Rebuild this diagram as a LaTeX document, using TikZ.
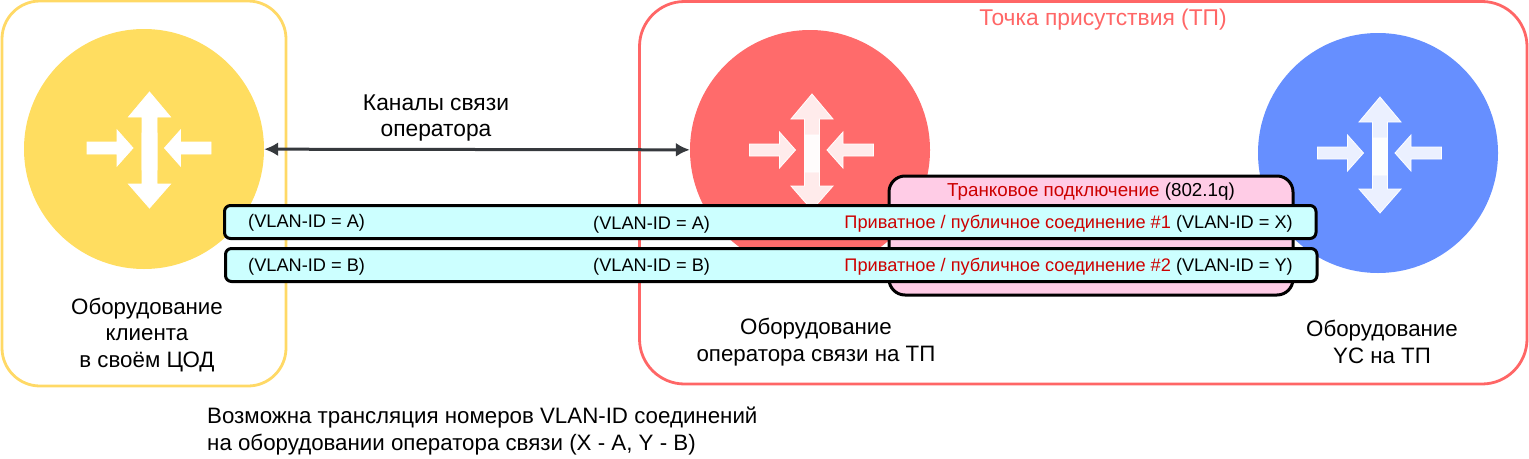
\documentclass[tikz,border=0pt]{standalone}
\usepackage{fontspec}
\usetikzlibrary{arrows.meta}
\setmainfont{Liberation Sans}
\definecolor{clientyellow}{HTML}{FFDD60}
\definecolor{clientborder}{HTML}{FFD966}
\definecolor{operred}{HTML}{FF6B6B}
\definecolor{popred}{HTML}{FF6666}
\definecolor{ycblue}{HTML}{668FFF}
\definecolor{trunkpink}{HTML}{FFCCE6}
\definecolor{vlancyan}{HTML}{CCFFFF}
\definecolor{darkred}{HTML}{CC0000}
\definecolor{linkgray}{HTML}{36393D}
\tikzset{
  bigtext/.style={font=\fontsize{22.3}{26.7}\selectfont, align=center, inner sep=0pt},
  smalltext/.style={font=\fontsize{18.2}{21}\selectfont, inner sep=0pt},
  router/.style={circle, minimum size=240pt, inner sep=0pt},
  zone/.style={draw, line width=2.8pt, fill=none},
  vlanbox/.style={draw=black, line width=3pt, fill=vlancyan, rounded corners=6pt},
  iconpart/.style={draw=white, line width=0.8pt, fill=white, fill opacity=0.87},
  pics/routericon/.style={code={
    % up, down, right, left
    \fill[iconpart] (0,-58) -- (21,-33) -- (7.5,-33) -- (7.5,20) -- (-7.5,20) -- (-7.5,-33) -- (-21,-33) -- cycle;
    \fill[iconpart] (0,58) -- (21,34) -- (7.5,34) -- (7.5,-17) -- (-7.5,-17) -- (-7.5,34) -- (-21,34) -- cycle;
    \fill[iconpart] (-62.5,-8) -- (-32.5,-8) -- (-32.5,-20) -- (-16.5,-2) -- (-32.5,16) -- (-32.5,4) -- (-62.5,4) -- cycle;
    \fill[iconpart] (61.5,-8) -- (31,-8) -- (31,-20) -- (15,-2) -- (31,16) -- (31,4) -- (61.5,4) -- cycle;
  }}
}
\begin{document}
\begin{tikzpicture}[x=1pt, y=-1pt]
  \useasboundingbox (0,0) rectangle (1529,458);
  \draw[zone, draw=clientborder, rounded corners=38pt] (2,1) rectangle (286,386);
  \draw[zone, draw=popred, rounded corners=45pt] (639.5,1.5) rectangle (1527,384);

  \node[router, fill=clientyellow] (clientrouter) at (144,149) {};
  \node[router, fill=operred] (operrouter) at (810,150) {};
  \node[router, fill=ycblue] (ycrouter) at (1378,153) {};
  \begin{scope}[iconpart/.append style={fill opacity=1}]
    \pic at (149.5,150) {routericon};
  \end{scope}
  \pic at (812,152) {routericon};
  \pic at (1380,155) {routericon};

  \draw[linkgray, line width=3pt, {Latex[length=14pt,width=14pt]}-{Latex[length=14pt,width=14pt]}] (clientrouter) -- (operrouter);

  \draw[draw=black, line width=3pt, fill=trunkpink, rounded corners=16pt] (889,176) rectangle (1293,295);
  \draw[vlanbox] (224.5,205.5) rectangle (1316,238.5);
  \draw[vlanbox] (225.5,248.5) rectangle (1317,281.5);

  \node[bigtext, text=popred, font=\fontsize{22.8}{26.7}\selectfont] (poplabel) at (1103,20) {Точка присутствия (ТП)};
  \node[bigtext, font=\fontsize{22.8}{26.7}\selectfont] (linklabel) at (436,118) {Каналы связи\\оператора};
  \node[bigtext] (clientlabel) at (147,335) {Оборудование\\клиента\\в своём ЦОД};
  \node[bigtext] (operlabel) at (816,342) {Оборудование\\оператора связи на ТП};
  \node[bigtext] (yclabel) at (1382,342) {Оборудование\\YC на ТП};
  \node[bigtext, align=left, anchor=west] (notelabel) at (207,431) {Возможна трансляция номеров VLAN-ID соединений\\на оборудовании оператора связи (X - A, Y - B)};

  \node[smalltext, font=\fontsize{18.8}{21}\selectfont] (trunklabel) at (1091,192) {\textcolor{darkred}{Транковое подключение} (802.1q)};
  \node[smalltext, anchor=west] (vlanaleft) at (248,223) {(VLAN-ID = A)};
  \node[smalltext, anchor=west] (vlanamid) at (593,224.5) {(VLAN-ID = A)};
  \node[smalltext, anchor=east] (conna) at (1293,223.5) {\textcolor{darkred}{Приватное / публичное соединение \#1} (VLAN-ID = X)};
  \node[smalltext, anchor=west] (vlanbleft) at (248,266.5) {(VLAN-ID = B)};
  \node[smalltext, anchor=west] (vlanbmid) at (593,267) {(VLAN-ID = B)};
  \node[smalltext, anchor=east] (connb) at (1293,266.5) {\textcolor{darkred}{Приватное / публичное соединение \#2} (VLAN-ID = Y)};
\end{tikzpicture}
\end{document}
